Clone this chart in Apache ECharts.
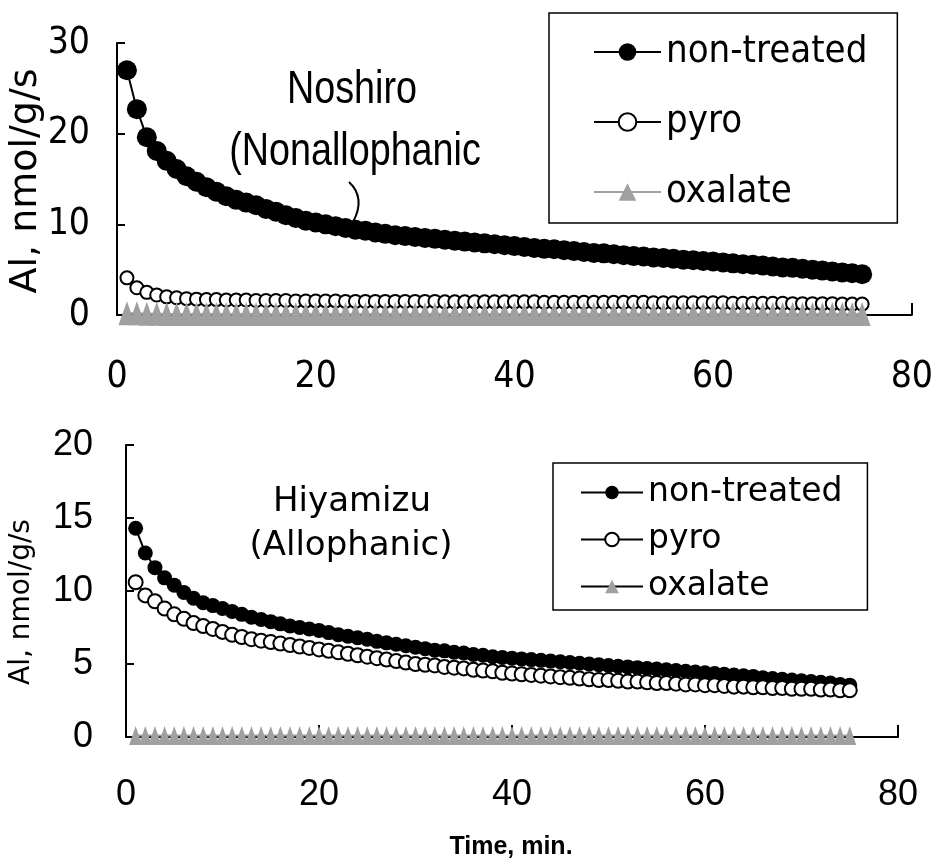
<!DOCTYPE html>
<html>
<head>
<meta charset="utf-8">
<script src="https://cdn.jsdelivr.net/npm/echarts@6/dist/echarts.min.js"></script>
<style>html,body{margin:0;padding:0;background:#fff}#chart{width:936px;height:860px}</style>
</head>
<body>
<div id="chart"></div>
<script>
// ---- data ----
const minutes = [1,2,3,4,5,6,7,8,9,10,11,12,13,14,15,16,17,18,19,20,21,22,23,24,25,26,27,28,29,30,31,32,33,34,35,36,37,38,39,40,41,42,43,44,45,46,47,48,49,50,51,52,53,54,55,56,57,58,59,60,61,62,63,64,65,66,67,68,69,70,71,72,73,74,75];
const xTicks = [0, 20, 40, 60, 80];
const seriesNames = ['non-treated', 'pyro', 'oxalate'];

// Noshiro (Nonallophanic)
const noshiroNonTreated = [27.0,22.7,19.6,18.1,17.0,16.1,15.3,14.7,14.1,13.6,13.1,12.7,12.4,12.1,11.7,11.4,11.0,10.7,10.4,10.2,10.0,9.8,9.6,9.4,9.3,9.1,8.95,8.8,8.7,8.6,8.5,8.4,8.3,8.2,8.1,8.0,7.9,7.8,7.7,7.6,7.5,7.4,7.3,7.25,7.15,7.05,6.95,6.85,6.8,6.7,6.6,6.5,6.45,6.35,6.3,6.2,6.1,6.05,5.95,5.9,5.8,5.7,5.6,5.55,5.45,5.35,5.25,5.2,5.1,5.0,4.9,4.8,4.7,4.6,4.5];
const noshiroPyro = [4.1,3.0,2.5,2.2,2.0,1.9,1.8,1.75,1.7,1.7,1.65,1.65,1.65,1.6,1.6,1.6,1.6,1.55,1.55,1.55,1.55,1.55,1.5,1.5,1.5,1.5,1.5,1.5,1.5,1.5,1.5,1.5,1.45,1.45,1.45,1.45,1.45,1.45,1.45,1.45,1.45,1.45,1.4,1.4,1.4,1.4,1.4,1.4,1.4,1.4,1.4,1.4,1.4,1.35,1.35,1.35,1.35,1.35,1.35,1.35,1.35,1.3,1.3,1.3,1.3,1.3,1.3,1.25,1.25,1.25,1.25,1.25,1.2,1.2,1.2];
const noshiroOxalate = [0.2,0.2,0.15,0.15,0.1,0.1,0.1,0.1,0.1,0.1,0.1,0.1,0.1,0.1,0.1,0.1,0.1,0.1,0.1,0.1,0.1,0.1,0.1,0.1,0.1,0.1,0.1,0.1,0.1,0.1,0.1,0.1,0.1,0.1,0.1,0.1,0.1,0.1,0.1,0.1,0.1,0.1,0.1,0.1,0.1,0.1,0.1,0.1,0.1,0.1,0.1,0.1,0.1,0.1,0.1,0.1,0.1,0.1,0.1,0.1,0.1,0.1,0.1,0.1,0.1,0.1,0.1,0.1,0.1,0.1,0.1,0.1,0.1,0.1,0.1];

// Hiyamizu (Allophanic)
const hiyamizuNonTreated = [14.3,12.6,11.6,10.9,10.4,9.9,9.5,9.2,9.0,8.8,8.6,8.4,8.2,8.05,7.9,7.75,7.6,7.5,7.4,7.3,7.15,7.0,6.9,6.8,6.7,6.55,6.45,6.35,6.25,6.15,6.05,5.95,5.9,5.8,5.75,5.65,5.6,5.5,5.45,5.4,5.35,5.3,5.25,5.2,5.15,5.1,5.05,5.0,4.95,4.9,4.85,4.8,4.75,4.7,4.65,4.6,4.55,4.5,4.45,4.4,4.35,4.3,4.25,4.2,4.15,4.05,4.0,3.95,3.9,3.85,3.8,3.75,3.7,3.6,3.55];
const hiyamizuPyro = [10.6,9.7,9.3,8.8,8.4,8.1,7.8,7.6,7.4,7.2,7.0,6.85,6.7,6.6,6.5,6.4,6.3,6.2,6.1,6.0,5.9,5.8,5.7,5.6,5.5,5.4,5.3,5.2,5.1,5.0,4.95,4.9,4.8,4.75,4.7,4.6,4.55,4.5,4.4,4.35,4.3,4.25,4.2,4.15,4.1,4.05,4.0,3.95,3.9,3.9,3.85,3.8,3.8,3.75,3.7,3.7,3.65,3.6,3.6,3.55,3.55,3.5,3.45,3.45,3.4,3.4,3.35,3.35,3.3,3.3,3.3,3.25,3.25,3.2,3.2];
const hiyamizuOxalate = [0.1,0.1,0.1,0.1,0.1,0.1,0.1,0.1,0.1,0.1,0.1,0.1,0.1,0.1,0.1,0.1,0.1,0.1,0.1,0.1,0.1,0.1,0.1,0.1,0.1,0.1,0.1,0.1,0.1,0.1,0.1,0.1,0.1,0.1,0.1,0.1,0.1,0.1,0.1,0.1,0.1,0.1,0.1,0.1,0.1,0.1,0.1,0.1,0.1,0.1,0.1,0.1,0.1,0.1,0.1,0.1,0.1,0.1,0.1,0.1,0.1,0.1,0.1,0.1,0.1,0.1,0.1,0.1,0.1,0.1,0.1,0.1,0.1,0.1,0.1];

// ---- build ----
const pairs = arr => minutes.map((t, i) => [t, arr[i]]);
const COND = '"DejaVu Sans Condensed", "DejaVu Sans", sans-serif';
const WIDE = '"DejaVu Sans", "Liberation Sans", sans-serif';
const ARIAL = '"Liberation Sans", Arial, sans-serif';
const GRAY = '#a0a0a0';

function xAxisCfg(gridIndex, font, size, margin) {
  return {
    type: 'value', gridIndex, min: xTicks[0], max: xTicks[xTicks.length - 1], interval: 20,
    axisLine: { show: true, lineStyle: { color: '#000', width: 2 } },
    axisTick: { show: true, inside: true, length: 12, lineStyle: { color: '#000', width: 2 } },
    axisLabel: { color: '#000', fontFamily: font, fontSize: size, margin },
    splitLine: { show: false }
  };
}
function yAxisCfg(gridIndex, max, interval, font, size, margin) {
  return {
    type: 'value', gridIndex, min: 0, max, interval,
    axisLine: { show: true, lineStyle: { color: '#000', width: 2 } },
    axisTick: { show: true, inside: true, length: 8, lineStyle: { color: '#000', width: 2 } },
    axisLabel: { color: '#000', fontFamily: font, fontSize: size, margin },
    splitLine: { show: false }
  };
}

const chart = echarts.init(document.getElementById('chart'), null, { renderer: 'canvas' });
chart.setOption({
  animation: false,
  backgroundColor: '#fff',
  grid: [
    { left: 117, top: 43, width: 798, height: 272 },
    { left: 126, top: 445, width: 772, height: 292 }
  ],
  xAxis: [xAxisCfg(0, COND, 37, 44), xAxisCfg(1, ARIAL, 36, 40)],
  yAxis: [yAxisCfg(0, 30, 10, COND, 37, 27), yAxisCfg(1, 20, 5, ARIAL, 36, 33)],
  legend: [
    {
      orient: 'vertical', left: 549, top: 13, padding: [20, 30, 12, 44], itemGap: 32,
      itemWidth: 67, itemHeight: 22,
      borderColor: '#000', borderWidth: 1.5, backgroundColor: '#fff',
      textStyle: { color: '#000', fontFamily: COND, fontSize: 38 },
      data: seriesNames.map(n => ({ name: n })),
      selectedMode: false
    },
    {
      orient: 'vertical', left: 553, top: 463, padding: [13, 25, 7, 27], itemGap: 14,
      itemWidth: 62, itemHeight: 17,
      borderColor: '#000', borderWidth: 1.5, backgroundColor: '#fff',
      textStyle: { color: '#000', fontFamily: WIDE, fontSize: 33 },
      data: [
        { name: seriesNames[0] },
        { name: seriesNames[1] },
        { name: seriesNames[2], lineStyle: { color: '#000' } }
      ],
      selectedMode: false
    }
  ],
  graphic: [
    { type: 'text', x: 26, y: 181, rotation: Math.PI / 2,
      style: { text: 'Al, nmol/g/s', fill: '#000', font: '38px ' + WIDE, align: 'center', verticalAlign: 'middle' } },
    { type: 'text', x: 22, y: 602, rotation: Math.PI / 2,
      style: { text: 'Al, nmol/g/s', fill: '#000', font: '28px ' + WIDE, align: 'center', verticalAlign: 'middle' } },
    { type: 'text', x: 352, y: 90, scaleX: 0.82,
      style: { text: 'Noshiro', fill: '#000', font: '46px ' + ARIAL, align: 'center', verticalAlign: 'middle' } },
    { type: 'text', x: 355, y: 152, scaleX: 0.82,
      style: { text: '(Nonallophanic', fill: '#000', font: '46px ' + ARIAL, align: 'center', verticalAlign: 'middle' } },
    { type: 'bezierCurve', shape: { x1: 349, y1: 182, x2: 353, y2: 222, cpx1: 366, cpy1: 198 },
      style: { stroke: '#000', lineWidth: 2, fill: null } },
    { type: 'text', x: 352, y: 502,
      style: { text: 'Hiyamizu', fill: '#000', font: '34px ' + WIDE, align: 'center', verticalAlign: 'middle' } },
    { type: 'text', x: 351, y: 546,
      style: { text: '(Allophanic)', fill: '#000', font: '34px ' + WIDE, align: 'center', verticalAlign: 'middle' } },
    { type: 'text', x: 511, y: 847,
      style: { text: 'Time, min.', fill: '#000', font: 'bold 25px ' + ARIAL, align: 'center', verticalAlign: 'middle' } }
  ],
  series: [
    { name: seriesNames[0], type: 'line', xAxisIndex: 0, yAxisIndex: 0, data: pairs(noshiroNonTreated),
      symbol: 'circle', symbolSize: 20, clip: false,
      itemStyle: { color: '#000' }, lineStyle: { color: '#000', width: 2 } },
    { name: seriesNames[1], type: 'line', xAxisIndex: 0, yAxisIndex: 0, data: pairs(noshiroPyro),
      symbol: 'circle', symbolSize: 13, clip: false,
      itemStyle: { color: '#fff', borderColor: '#000', borderWidth: 2 }, lineStyle: { color: '#000', width: 2 } },
    { name: seriesNames[2], type: 'line', xAxisIndex: 0, yAxisIndex: 0, data: pairs(noshiroOxalate),
      symbol: 'triangle', symbolSize: [17, 24], clip: false,
      itemStyle: { color: GRAY }, lineStyle: { color: GRAY, width: 2 } },
    { name: seriesNames[0], type: 'line', xAxisIndex: 1, yAxisIndex: 1, data: pairs(hiyamizuNonTreated),
      symbol: 'circle', symbolSize: 15, clip: false,
      itemStyle: { color: '#000' }, lineStyle: { color: '#000', width: 2 } },
    { name: seriesNames[1], type: 'line', xAxisIndex: 1, yAxisIndex: 1, data: pairs(hiyamizuPyro),
      symbol: 'circle', symbolSize: 14, clip: false,
      itemStyle: { color: '#fff', borderColor: '#000', borderWidth: 2 }, lineStyle: { color: '#000', width: 2 } },
    { name: seriesNames[2], type: 'line', xAxisIndex: 1, yAxisIndex: 1, data: pairs(hiyamizuOxalate),
      symbol: 'triangle', symbolSize: [13, 19], clip: false,
      itemStyle: { color: GRAY }, lineStyle: { color: GRAY, width: 2 } }
  ]
});
</script>
</body>
</html>
